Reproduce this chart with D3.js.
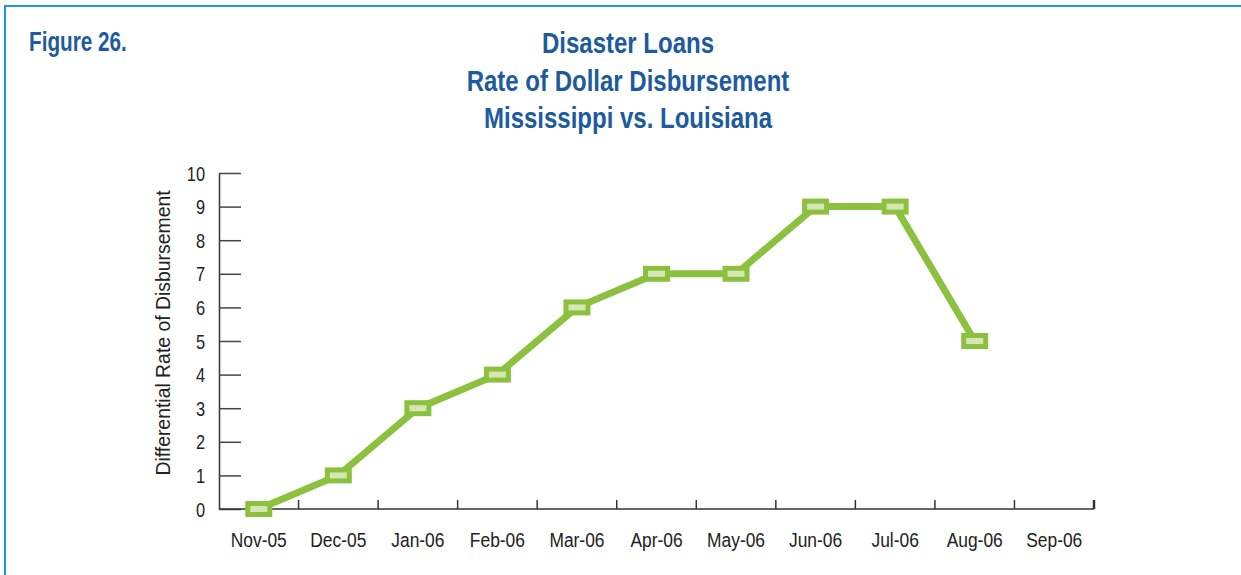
<!DOCTYPE html>
<html>
<head>
<meta charset="utf-8">
<script src="https://cdn.jsdelivr.net/npm/d3@7"></script>
<style>
  html, body { margin: 0; padding: 0; background: #fff; }
  svg { display: block; }
</style>
</head>
<body>
<div id="chart"></div>
<script>
// Monthly categories and the differential disbursement rate for each month
const months = ["Nov-05", "Dec-05", "Jan-06", "Feb-06", "Mar-06", "Apr-06",
                "May-06", "Jun-06", "Jul-06", "Aug-06", "Sep-06"];
const rates = [0, 1, 3, 4, 6, 7, 7, 9, 9, 5, null];
const yTicks = [0, 1, 2, 3, 4, 5, 6, 7, 8, 9, 10];
const titleLines = ["Disaster Loans", "Rate of Dollar Disbursement", "Mississippi vs. Louisiana"];
const figureLabel = "Figure 26.";
const yAxisLabel = "Differential Rate of Disbursement";

const W = 1241, H = 575;
const margin = { left: 219, right: 147, top: 173, bottom: 66 };
const font = "'Liberation Sans', Arial, sans-serif";
const blue = "#1d5a9e";
const green = "#8cc13f";
const ink = "#222";

const svg = d3.select("#chart").append("svg")
  .attr("width", W).attr("height", H);

// narrow text: regular face squeezed horizontally around its anchor point
function narrowText(sel, px, py, sx) {
  sel.attr("x", 0).attr("y", 0)
    .attr("transform", (d, i) => `translate(${px(d, i)},${py(d, i)}) scale(${sx},1)`);
  return sel;
}

// frame lines along top and left edges
svg.append("line").attr("x1", 4).attr("x2", W).attr("y1", 6).attr("y2", 6)
  .attr("stroke", "#1b9ad8").attr("stroke-width", 2);
svg.append("line").attr("x1", 5).attr("x2", 5).attr("y1", 6).attr("y2", H)
  .attr("stroke", "#1b9ad8").attr("stroke-width", 2);

svg.append("text").datum(figureLabel)
  .call(narrowText, () => 29, () => 51, 0.74)
  .attr("font-family", font).attr("font-weight", "bold")
  .attr("font-size", 28).attr("fill", blue).text(d => d);

svg.append("g").selectAll("text").data(titleLines).join("text")
  .call(narrowText, () => 628, (d, i) => 53 + i * 37.5, 0.8)
  .attr("text-anchor", "middle")
  .attr("font-family", font).attr("font-weight", "bold")
  .attr("font-size", 30).attr("fill", blue).text(d => d);

const x = d3.scaleBand().domain(months)
  .range([margin.left, W - margin.right]).paddingInner(0).paddingOuter(0);
const y = d3.scaleLinear().domain([0, 10])
  .range([H - margin.bottom, margin.top]);

// y axis: ticks pointing into the plot
const yAxis = svg.append("g").attr("transform", `translate(${margin.left},0)`)
  .call(d3.axisRight(y).tickValues(yTicks).tickSize(22).tickSizeOuter(0));
yAxis.select(".domain").attr("stroke", "#333").attr("stroke-width", 1.5);
yAxis.selectAll(".tick line").attr("stroke", "#444").attr("stroke-width", 1.5);
yAxis.selectAll(".tick text")
  .attr("x", 0).attr("dy", null)
  .attr("transform", "translate(-14,7) scale(0.82,1)")
  .attr("text-anchor", "end")
  .attr("font-family", font).attr("font-size", 20).attr("fill", ink);

// x axis: ticks on band boundaries, pointing upward
const xAxisG = svg.append("g").attr("transform", `translate(0,${y(0)})`);
xAxisG.append("line")
  .attr("x1", margin.left).attr("x2", W - margin.right)
  .attr("stroke", "#333").attr("stroke-width", 1.5);
const bounds = months.map(m => x(m) + x.bandwidth());
xAxisG.selectAll("line.tk").data(bounds).join("line").attr("class", "tk")
  .attr("x1", d => d).attr("x2", d => d).attr("y1", 0).attr("y2", -9)
  .attr("stroke", "#333").attr("stroke-width", (d, i) => i === bounds.length - 1 ? 2.5 : 1.5);
xAxisG.selectAll("text").data(months).join("text")
  .call(narrowText, d => x(d) + x.bandwidth() / 2, () => 38, 0.87)
  .attr("text-anchor", "middle")
  .attr("font-family", font).attr("font-size", 20).attr("fill", ink)
  .text(d => d);

svg.append("text")
  .attr("transform", `translate(170,333) rotate(-90) scale(0.97,1)`)
  .attr("text-anchor", "middle")
  .attr("font-family", font).attr("font-size", 20).attr("fill", ink)
  .text(yAxisLabel);

// data line and square markers
const pts = months.map((m, i) => ({ m, v: rates[i] })).filter(d => d.v !== null);
const line = d3.line().x(d => x(d.m) + x.bandwidth() / 2).y(d => y(d.v));
svg.append("path").datum(pts).attr("d", line)
  .attr("fill", "none").attr("stroke", green).attr("stroke-width", 7)
  .attr("stroke-linejoin", "round");

svg.append("g").selectAll("rect").data(pts).join("rect")
  .attr("x", d => x(d.m) + x.bandwidth() / 2 - 11)
  .attr("y", d => y(d.v) - 5.5)
  .attr("width", 22).attr("height", 11)
  .attr("fill", "#d4e6b3").attr("stroke", green).attr("stroke-width", 5);
</script>
</body>
</html>
